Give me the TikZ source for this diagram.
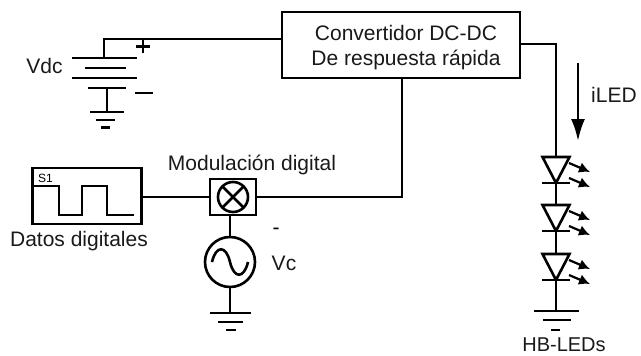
\documentclass[tikz,border=0pt]{standalone}
\usepackage{fontspec}
\setmainfont{Liberation Sans}
\usetikzlibrary{arrows.meta}
\tikzset{
  wire/.style={line width=2.6pt,black},
  plate/.style={line width=2.6pt,black},
  boxed/.style={draw=black,line width=2.6pt,fill=white,inner sep=0pt,outer sep=0pt},
  lbl/.style={inner sep=0pt,font=\fontsize{21}{25}\selectfont,text=black!90},
  ledarrow/.style={line width=2.2pt,-{Latex[length=11pt,width=11pt]}},
}
\newcommand{\ledsym}[3]{% name, x, top y
  \coordinate (#1a) at (#2,#3);
  \coordinate (#1k) at (#2,#3+26);
  \draw[plate,line join=miter] (#2-13.5,#3) -- (#2+13.5,#3) -- (#1k) -- cycle;
  \draw[plate] (#2-14,#3+26) -- (#2+14,#3+26);
  \draw[ledarrow] (#2+13,#3+6) -- (#2+34,#3+15);
  \draw[ledarrow] (#2+13,#3+21) -- (#2+34,#3+30);
}
\begin{document}
\begin{tikzpicture}[x=1pt,y=-1pt]
\useasboundingbox (0,0) rectangle (641,356);
% converter
\node[boxed,minimum width=238pt,minimum height=66pt] (conv) at (401,45) {};
\node[inner sep=0pt,align=center,font=\fontsize{21}{25}\selectfont,text=black!90] (convtxt) at (406,47.5) {Convertidor DC-DC\\De respuesta rápida};
% battery
\coordinate (batt) at (104,58);
\coordinate (convin) at (282,39);
\draw[wire] (batt) -- (104,39) -- (convin);
\draw[plate] (72,58) -- (137,58);
\draw[plate] (85,68) -- (126,68);
\draw[plate] (72,78) -- (137,78);
\draw[plate] (88,88) -- (126,88);
\coordinate (battlow) at (107,88);
\coordinate (battgnd) at (107,112);
\draw[wire] (battlow) -- (battgnd);
\draw[plate] (90,112) -- (124,112);
\draw[plate] (96,120) -- (115,120);
\draw[plate] (101,127.5) -- (110,127.5);
\draw[plate] (136,46.5) -- (150,46.5) (143,40) -- (143,53);
\draw[plate] (135,93) -- (153,93);
\node[lbl] (vdc) at (44.5,66) {Vdc};
% data source
\node[boxed,minimum width=109pt,minimum height=56pt] (data) at (87,196) {};
\node[inner sep=0pt,font=\fontsize{12}{14}\selectfont] (s1) at (45.5,178) {S1};
\draw[wire,line join=miter] (33,186) -- (59,186) -- (59,215) -- (82,215) -- (82,186) -- (107,186) -- (107,215) -- (134,215);
\node[lbl] (datalbl) at (79,241) {Datos digitales};
% modulator
\node[boxed,minimum width=46pt,minimum height=36pt] (mod) at (233,197) {};
\node[draw=black,line width=2.6pt,circle,minimum size=30pt,inner sep=0pt,outer sep=0pt] (mix) at (233,197) {};
\draw[wire] (mix.north west) -- (mix.south east) (mix.north east) -- (mix.south west);
\node[lbl] (modlbl) at (252,165) {Modulación digital};
\draw[wire] (data.east |- mod.west) -- (mod.west);
\coordinate (corner) at (402,197);
\draw[wire] (mod.east) -- (corner) -- (corner |- conv.south);
% AC source
\node[draw=black,line width=2.6pt,circle,minimum size=50pt,inner sep=0pt,outer sep=0pt] (ac) at (230,262) {};
\draw[wire] (230,215) -- (ac.north);
\draw[wire] (212,262) .. controls (216,245) and (226,245) .. (230,262) .. controls (234,279) and (244,279) .. (248,262);
\coordinate (acgnd) at (230,313);
\draw[wire] (ac.south) -- (acgnd);
\draw[plate] (210,313) -- (251,313);
\draw[plate] (218,322) -- (243,322);
\draw[plate] (226,330) -- (236,330);
\node[inner sep=0pt,font=\fontsize{21}{25}\selectfont] (dash) at (276,231) {-};
\node[lbl] (vc) at (284,263) {Vc};
% LED string
\coordinate (convout) at (520,44);
\ledsym{l1}{556}{157}
\ledsym{l2}{556}{205}
\ledsym{l3}{556}{254}
\draw[wire] (convout) -- (556,44) -- (l1a);
\draw[wire] (l1k) -- (l2a);
\draw[wire] (l2k) -- (l3a);
\coordinate (ledgnd) at (556,311);
\draw[wire] (l3k) -- (ledgnd);
\draw[plate] (534,311) -- (579,311);
\draw[plate] (543,320) -- (571,320);
\draw[plate] (551,330) -- (560,330);
\node[lbl,font=\fontsize{20}{24}\selectfont] (hb) at (564,344.5) {HB-LEDs};
% current arrow
\coordinate (ia) at (578,63);
\coordinate (ib) at (578,141);
\draw[line width=2.6pt,-{Latex[length=22pt,width=14pt]}] (ia) -- (ib);
\node[lbl] (iled) at (614,95) {iLED};
\end{tikzpicture}
\end{document}
